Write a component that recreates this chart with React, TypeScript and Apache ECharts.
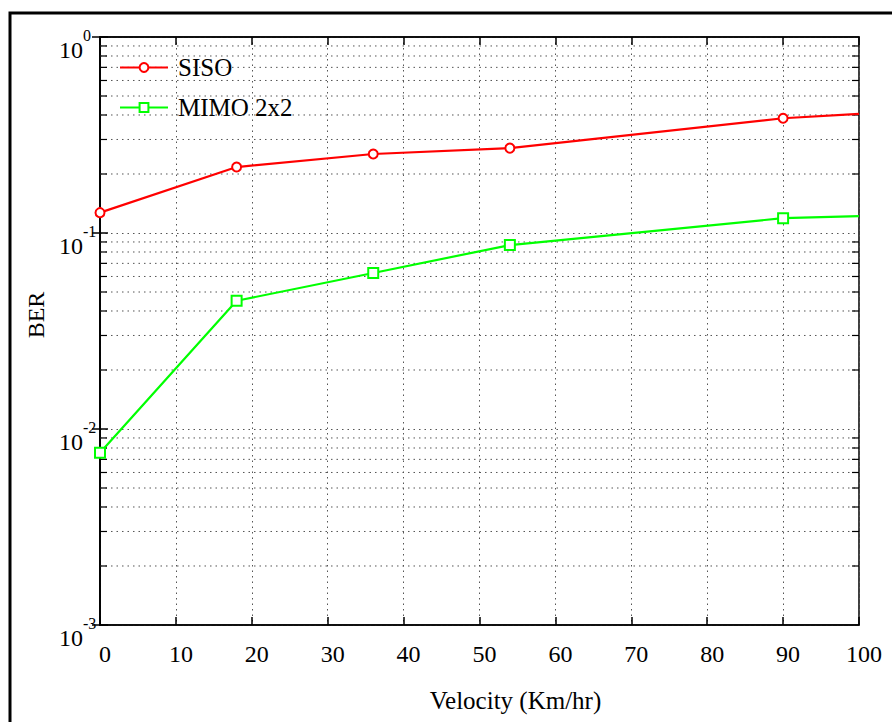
import React, { useEffect, useRef } from "react";
import * as echarts from "echarts";

const velocities = [0, 18, 36, 54, 90, 100];
const sisoBer = [0.127, 0.217, 0.253, 0.271, 0.385, 0.405];
const mimoBer = [0.00757, 0.0451, 0.0625, 0.0868, 0.119, 0.122];
const seriesNames = ["SISO", "MIMO 2x2"];
const yExponents = ["-3", "-2", "-1", "0"];
const minorGridValues = [
  0.002, 0.003, 0.004, 0.005, 0.006, 0.007, 0.008, 0.009,
  0.02, 0.03, 0.04, 0.05, 0.06, 0.07, 0.08, 0.09,
  0.2, 0.3, 0.4, 0.5, 0.6, 0.7, 0.8, 0.9,
];

const FONT = "Liberation Serif";

function buildData(values: number[]) {
  return velocities.map((x, i) =>
    i === velocities.length - 1
      ? { value: [x, values[i]], symbol: "none" }
      : { value: [x, values[i]] }
  );
}

export default function App() {
  const ref = useRef<HTMLDivElement>(null);
  useEffect(() => {
    if (!ref.current) return;
    const chart = echarts.init(ref.current, null, { renderer: "svg" });
    const dotted = { color: "#555", width: 1, type: [1.5, 4] as any };
    const option: any = {
      animation: false,
      backgroundColor: "#fff",
      textStyle: { fontFamily: FONT },
      graphic: [
        {
          type: "rect",
          shape: { x: 10, y: 13, width: 900, height: 730 },
          style: { fill: "none", stroke: "#000", lineWidth: 3 },
          silent: true,
        },
      ],
      grid: {
        left: 100,
        top: 37,
        right: 33,
        bottom: 97,
        show: true,
        borderColor: "#000",
        borderWidth: 1.5,
        backgroundColor: "transparent",
      },
      legend: {
        show: true,
        data: seriesNames,
        orient: "vertical",
        left: 119,
        top: 55,
        padding: 0,
        itemWidth: 48,
        itemHeight: 11,
        itemGap: 15,
        textStyle: {
          fontFamily: FONT,
          fontSize: 25,
          color: "#000",
          padding: [0, 0, 0, 5],
        },
      },
      xAxis: [
        {
          type: "value",
          min: 0,
          max: 100,
          interval: 10,
          position: "bottom",
          name: "Velocity (Km/hr)",
          nameLocation: "middle",
          nameGap: 63,
          nameTextStyle: {
            fontFamily: FONT,
            fontSize: 25,
            color: "#000",
            padding: [0, 0, 0, 72],
          },
          axisLine: { show: true, lineStyle: { color: "#000", width: 1.5 } },
          axisTick: { show: true, inside: true, length: 8, lineStyle: { color: "#000", width: 1.5 } },
          axisLabel: {
            fontFamily: FONT,
            fontSize: 24,
            color: "#000",
            margin: 17,
            padding: [0, 0, 0, 10],
            showMinLabel: true,
            showMaxLabel: true,
          },
          splitLine: { show: true, lineStyle: dotted },
        },
        {
          type: "value",
          min: 0,
          max: 100,
          interval: 10,
          position: "top",
          axisLine: { show: true, lineStyle: { color: "#000", width: 1.5 } },
          axisTick: { show: true, inside: true, length: 8, lineStyle: { color: "#000", width: 1.5 } },
          axisLabel: { show: false },
          splitLine: { show: false },
        },
      ],
      yAxis: [
        {
          type: "log",
          logBase: 10,
          min: 0.001,
          max: 1,
          position: "left",
          name: "BER",
          nameLocation: "middle",
          nameGap: 50,
          nameTextStyle: {
            fontFamily: FONT,
            fontSize: 24,
            color: "#000",
            padding: [0, 0, 0, 32],
          },
          axisLine: { show: true, lineStyle: { color: "#000", width: 1.5 } },
          axisTick: { show: true, inside: true, length: 8, lineStyle: { color: "#000", width: 1.5 } },
          axisLabel: {
            showMinLabel: true,
            showMaxLabel: true,
            align: "left",
            margin: 41,
            padding: [15, 0, 0, 0],
            formatter: (v: number) => {
              const e = Math.round(Math.log10(v));
              const s = yExponents.find((x) => Number(x) === e) ?? String(e);
              return "{b|10}{s|" + s + "}";
            },
            rich: {
              b: {
                fontFamily: FONT,
                fontSize: 24,
                lineHeight: 24,
                color: "#000",
                verticalAlign: "bottom",
              },
              s: {
                fontFamily: FONT,
                fontSize: 16,
                lineHeight: 34,
                color: "#000",
                verticalAlign: "top",
              },
            },
          },
          splitLine: { show: true, lineStyle: dotted },
        },
        {
          type: "log",
          logBase: 10,
          min: 0.001,
          max: 1,
          position: "right",
          axisLine: { show: true, lineStyle: { color: "#000", width: 1.5 } },
          axisTick: { show: true, inside: true, length: 8, lineStyle: { color: "#000", width: 1.5 } },
          axisLabel: { show: false },
          splitLine: { show: false },
        },
      ],
      series: [
        {
          type: "custom",
          name: "minorGrid",
          xAxisIndex: 0,
          yAxisIndex: 0,
          silent: true,
          z: 1,
          data: minorGridValues.map((v) => [0, v]),
          encode: { x: 0, y: 1 },
          renderItem: (params: any, api: any) => {
            const v = api.value(1);
            const p0 = api.coord([0, v]);
            const p1 = api.coord([100, v]);
            return {
              type: "group",
              children: [
                {
                  type: "line",
                  shape: { x1: p0[0], y1: p0[1], x2: p1[0], y2: p1[1] },
                  style: { stroke: "#555", lineWidth: 1, lineDash: [1.5, 4] },
                },
                {
                  type: "line",
                  shape: { x1: p0[0], y1: p0[1], x2: p0[0] + 7, y2: p0[1] },
                  style: { stroke: "#000", lineWidth: 1.2 },
                },
                {
                  type: "line",
                  shape: { x1: p1[0] - 7, y1: p1[1], x2: p1[0], y2: p1[1] },
                  style: { stroke: "#000", lineWidth: 1.2 },
                },
              ],
            };
          },
        },
        {
          type: "line",
          name: seriesNames[0],
          data: buildData(sisoBer),
          symbol: "emptyCircle",
          symbolSize: 9,
          z: 5,
          color: "#ff0000",
          lineStyle: { color: "#ff0000", width: 2.2 },
          itemStyle: { color: "#ff0000", borderColor: "#ff0000", borderWidth: 2 },
        },
        {
          type: "line",
          name: seriesNames[1],
          data: buildData(mimoBer),
          symbol: "emptyRect",
          symbolSize: 10,
          z: 5,
          color: "#00ff00",
          lineStyle: { color: "#00ff00", width: 2.2 },
          itemStyle: { color: "#00ff00", borderColor: "#00ff00", borderWidth: 2 },
        },
      ],
    };
    chart.setOption(option);
    return () => chart.dispose();
  }, []);
  return (
    <div
      ref={ref}
      style={{ position: "absolute", left: 0, top: 0, width: 892, height: 722, background: "#fff" }}
    />
  );
}
